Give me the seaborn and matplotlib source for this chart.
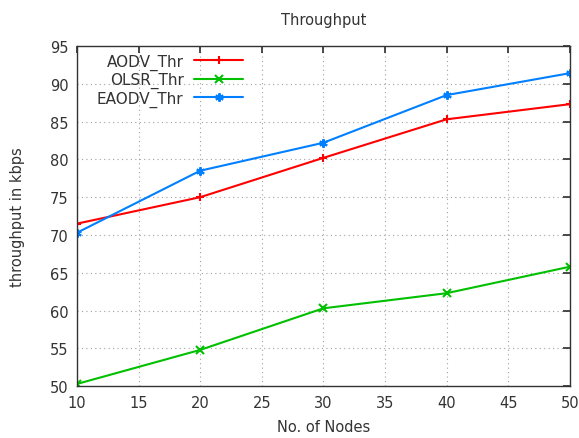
import matplotlib
matplotlib.use("Agg")
import matplotlib.pyplot as plt
import seaborn as sns
import pandas as pd

nodes = [10, 20, 30, 40, 50]
aodv = [71.5, 75.0, 80.2, 85.3, 87.3]
olsr = [50.3, 54.8, 60.3, 62.3, 65.8]
eaodv = [70.3, 78.5, 82.2, 88.5, 91.4]
series_names = ["AODV_Thr", "OLSR_Thr", "EAODV_Thr"]
colors = ["#ff0000", "#00c000", "#0080ff"]
markers = ["+", "x", (6, 2, 0)]

sns.set_theme(style="white")
plt.rcParams['font.family'] = ['DejaVu Sans']

df = pd.DataFrame({"nodes": nodes * 3,
                   "thr": aodv + olsr + eaodv,
                   "series": sum([[n] * len(nodes) for n in series_names], [])})

fig = plt.figure(figsize=(5.79, 4.39), dpi=100)
ax = fig.add_axes([0.133, 0.118, 0.851, 0.775])
for name, c, m in zip(series_names, colors, markers):
    sub = df[df.series == name]
    sns.lineplot(data=sub, x="nodes", y="thr", ax=ax, color=c, marker=m,
                 markersize=6, markeredgewidth=1.5, markeredgecolor=c,
                 linewidth=1.5, label=name)

ax.set_xlim(10, 50)
ax.set_ylim(50, 95)
ax.set_xticks(range(10, 51, 5))
ax.set_yticks(range(50, 96, 5))
ax.grid(True, linestyle=(0, (1, 3)), color="#a0a0a0", linewidth=0.8)
for s in ax.spines.values():
    s.set_visible(True)
    s.set_color("#333333")
    s.set_linewidth(1.0)
ax.tick_params(direction="in", top=True, right=True, length=5, labelsize=10.5,
               colors="#333333", labelcolor="#333333", pad=6)
ax.set_xlabel("No. of Nodes", fontsize=10.5, color="#333333", labelpad=7)
ax.set_ylabel("throughput in kbps", fontsize=10.5, color="#333333", labelpad=18)
ax.set_title("Throughput", fontsize=10.5, color="#333333", pad=16)
leg = ax.legend(loc="upper left", markerfirst=False, frameon=False, fontsize=11,
                handlelength=3.2, borderaxespad=0.1, labelspacing=0.15,
                handletextpad=0.7, bbox_to_anchor=(0.025, 1.0))
for t in leg.get_texts():
    t.set_ha("right")
    t.set_color("#333333")
fig.savefig("out.png", dpi=100)
